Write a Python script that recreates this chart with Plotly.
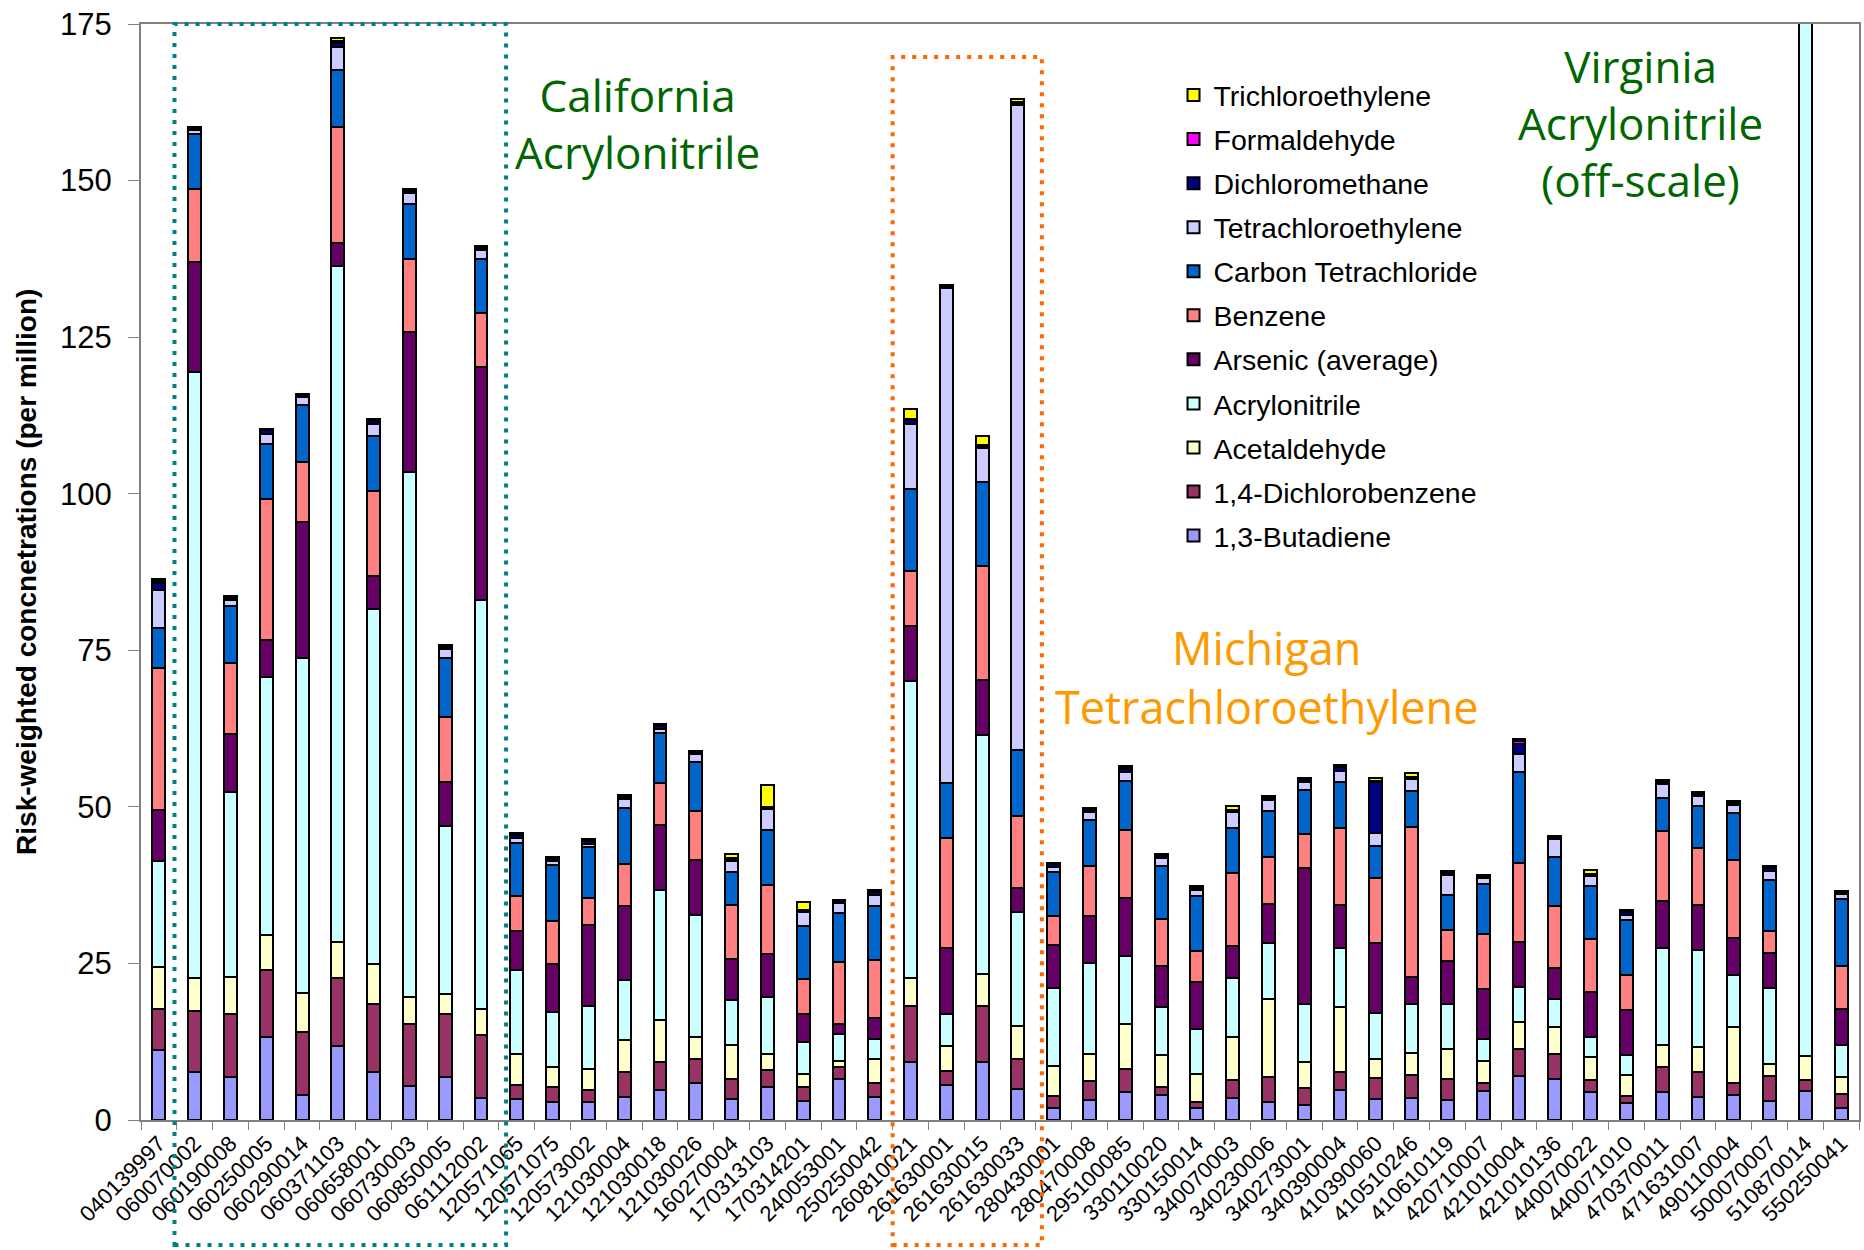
import plotly.graph_objects as go

# Monitoring sites (AQS site IDs)
sites = [
    "040139997", "060070002", "060190008", "060250005", "060290014", "060371103",
    "060658001", "060730003", "060850005", "061112002", "120571065", "120571075",
    "120573002", "121030004", "121030018", "121030026", "160270004", "170313103",
    "170314201", "240053001", "250250042", "260810021", "261630001", "261630015",
    "261630033", "280430001", "280470008", "295100085", "330110020", "330150014",
    "340070003", "340230006", "340273001", "340390004", "410390060", "410510246",
    "410610119", "420710007", "421010004", "421010136", "440070022", "440071010",
    "470370011", "471631007", "490110004", "500070007", "510870014", "550250041",
]

# Risk-weighted concentrations (per million), one list per pollutant, stacked bottom to top
butadiene = [11.1, 7.6, 6.9, 13.3, 4.0, 11.8, 7.7, 5.4, 6.9, 3.5, 3.4, 2.8,
             2.8, 3.7, 4.8, 5.9, 3.3, 5.2, 3.1, 6.6, 3.7, 9.2, 5.6, 9.2,
             5.0, 1.9, 3.2, 4.5, 4.0, 1.9, 3.5, 2.8, 2.4, 4.8, 3.3, 3.5,
             3.2, 4.6, 7.0, 6.6, 4.5, 2.7, 4.5, 3.7, 4.0, 3.1, 4.7, 1.9]
dichlorobenzene = [6.7, 9.8, 10.0, 10.6, 10.0, 10.8, 10.8, 10.0, 10.0, 10.1, 2.2, 2.4,
                   2.0, 3.9, 4.5, 3.8, 3.3, 2.8, 2.1, 1.8, 2.2, 9.0, 2.3, 9.0,
                   4.7, 1.9, 3.0, 3.6, 1.2, 1.0, 2.9, 4.0, 2.7, 2.8, 3.4, 3.7,
                   3.3, 1.3, 4.4, 3.9, 1.9, 1.2, 4.0, 4.0, 1.9, 3.9, 1.7, 2.2]
acetaldehyde = [6.7, 5.2, 6.0, 5.7, 6.2, 5.9, 6.4, 4.3, 3.2, 4.1, 4.9, 3.3,
                3.3, 5.1, 6.7, 3.5, 5.3, 2.5, 2.1, 1.0, 3.8, 4.4, 3.9, 5.1,
                5.3, 4.8, 4.3, 7.2, 5.2, 4.4, 6.9, 12.5, 4.1, 10.4, 3.0, 3.5,
                4.8, 3.6, 4.2, 4.4, 3.7, 3.3, 3.5, 4.0, 9.0, 1.9, 3.8, 2.8]
acrylonitrile = [16.8, 96.9, 29.4, 41.2, 53.6, 107.9, 56.7, 83.8, 26.8, 65.3, 13.4, 8.7,
                 10.1, 9.7, 20.8, 19.5, 7.3, 9.2, 5.2, 4.4, 3.2, 47.5, 5.2, 38.2,
                 18.2, 12.5, 14.5, 10.9, 7.6, 7.2, 9.3, 8.9, 9.3, 9.4, 7.4, 7.9,
                 7.2, 3.4, 5.6, 4.4, 3.2, 3.2, 15.5, 15.4, 8.3, 12.1, 400.0, 5.1]
arsenic = [8.2, 17.5, 9.4, 5.8, 21.7, 3.6, 5.3, 22.4, 7.0, 37.3, 6.3, 7.7,
           12.9, 11.8, 10.3, 8.8, 6.5, 6.8, 4.4, 1.6, 3.4, 8.8, 10.4, 8.8,
           3.9, 6.9, 7.5, 9.2, 6.6, 7.5, 5.2, 6.3, 21.8, 7.0, 11.2, 4.3,
           6.9, 8.0, 7.3, 4.9, 7.2, 7.2, 7.4, 7.2, 5.9, 5.7, 0.0, 5.7]
benzene = [22.6, 11.7, 11.2, 22.6, 9.6, 18.6, 13.5, 11.5, 10.4, 8.5, 5.5, 6.8,
           4.4, 6.7, 6.7, 7.8, 8.6, 11.0, 5.6, 9.8, 9.3, 8.7, 17.7, 18.2,
           11.4, 4.5, 8.1, 10.9, 7.5, 5.0, 11.6, 7.5, 5.3, 12.2, 10.3, 23.9,
           4.9, 8.8, 12.5, 10.0, 8.4, 5.6, 11.2, 9.1, 12.4, 3.4, 0.0, 6.9]
carbon_tet = [6.5, 8.8, 9.2, 8.7, 9.0, 9.0, 8.8, 8.8, 9.4, 8.7, 8.6, 9.0,
              8.1, 8.9, 8.0, 7.9, 5.3, 8.8, 8.5, 7.8, 8.6, 13.1, 8.7, 13.3,
              10.5, 7.1, 7.3, 7.8, 8.4, 8.8, 7.3, 7.3, 7.1, 7.3, 5.2, 5.7,
              5.6, 8.0, 14.6, 7.8, 8.5, 8.7, 5.3, 6.7, 7.5, 8.2, 0.0, 10.7]
tetrachloro = [6.0, 0.5, 1.0, 1.7, 1.4, 3.8, 1.9, 1.8, 1.5, 1.4, 0.8, 0.7,
               0.4, 1.4, 0.7, 1.2, 1.8, 3.3, 2.2, 1.6, 1.8, 10.5, 79.0, 5.5,
               103.1, 0.8, 1.2, 1.5, 1.4, 0.9, 2.4, 1.8, 1.3, 1.9, 2.0, 1.9,
               3.2, 0.9, 2.9, 2.8, 1.5, 0.9, 2.2, 1.6, 1.3, 1.5, 0.0, 0.8]
dichloromethane = [1.2, 0.3, 0.3, 0.5, 0.3, 0.6, 0.5, 0.4, 0.4, 0.4, 0.4, 0.3,
                   0.5, 0.4, 0.4, 0.3, 0.3, 0.3, 0.3, 0.3, 0.4, 0.6, 0.3, 0.35,
                   0.3, 0.4, 0.4, 0.5, 0.3, 0.4, 0.3, 0.3, 0.3, 0.5, 8.2, 0.3,
                   0.3, 0.3, 1.6, 0.3, 0.3, 0.4, 0.4, 0.4, 0.3, 0.4, 0.0, 0.3]
formaldehyde = [0.3, 0.1, 0.1, 0.15, 0.1, 0.3, 0.2, 0.1, 0.15, 0.1, 0.15, 0.15,
                0.15, 0.15, 0.15, 0.1, 0.1, 0.1, 0.1, 0.1, 0.15, 0.2, 0.1, 0.15,
                0.1, 0.15, 0.15, 0.2, 0.1, 0.15, 0.1, 0.15, 0.15, 0.2, 0.2, 0.1,
                0.1, 0.15, 0.4, 0.1, 0.1, 0.15, 0.15, 0.15, 0.15, 0.15, 0.0, 0.1]
trichloro = [0.3, 0.1, 0.1, 0.15, 0.1, 0.4, 0.2, 0.1, 0.15, 0.1, 0.15, 0.15,
             0.15, 0.15, 0.15, 0.1, 0.6, 3.5, 1.2, 0.1, 0.15, 1.6, 0.1, 1.4,
             0.5, 0.15, 0.15, 0.2, 0.1, 0.15, 0.6, 0.15, 0.15, 0.2, 0.4, 0.6,
             0.3, 0.15, 0.4, 0.1, 0.6, 0.15, 0.15, 0.15, 0.15, 0.15, 0.0, 0.1]

series = [
    ("1,3-Butadiene", butadiene, "#9999FF"),
    ("1,4-Dichlorobenzene", dichlorobenzene, "#993366"),
    ("Acetaldehyde", acetaldehyde, "#FFFFCC"),
    ("Acrylonitrile", acrylonitrile, "#CCFFFF"),
    ("Arsenic (average)", arsenic, "#660066"),
    ("Benzene", benzene, "#FF8080"),
    ("Carbon Tetrachloride", carbon_tet, "#0066CC"),
    ("Tetrachloroethylene", tetrachloro, "#CCCCFF"),
    ("Dichloromethane", dichloromethane, "#000080"),
    ("Formaldehyde", formaldehyde, "#FF00FF"),
    ("Trichloroethylene", trichloro, "#FFFF00"),
]

BASE_FONT = "Liberation Sans, Arial, sans-serif"
NOTE_FONT = "Open Sans, DejaVu Sans, sans-serif"

fig = go.Figure()
n = len(series)
for i, (name, vals, color) in enumerate(series):
    fig.add_trace(go.Bar(
        x=sites, y=vals, name=name, legendgroup=name,
        legendrank=n - i,  # top of the stack listed first
        marker=dict(color=color, line=dict(color="black", width=2)),
    ))

fig.update_layout(
    width=1864, height=1250,
    margin=dict(l=141, r=5, t=24, b=130, autoexpand=False),
    paper_bgcolor="white", plot_bgcolor="white",
    barmode="stack", bargap=0.64,
    font=dict(family=BASE_FONT, color="black"),
    showlegend=True,
    legend=dict(
        x=0.601, y=0.958, xanchor="left", yanchor="top",
        traceorder="grouped", tracegroupgap=4,
        font=dict(family=BASE_FONT, size=28.5, color="black"),
        bgcolor="rgba(0,0,0,0)",
    ),
)

fig.update_xaxes(
    type="category", tickangle=-45, tickfont=dict(size=22, family=BASE_FONT),
    ticks="outside", ticklen=8, tickcolor="#808080", tickson="boundaries",
    showline=True, linecolor="#808080", linewidth=2, mirror=True,
    showgrid=False, zeroline=False, automargin=False,
)
fig.update_yaxes(
    range=[0, 175], tick0=0, dtick=25, tickfont=dict(size=31, family=BASE_FONT),
    ticks="outside", ticklen=11, tickcolor="#808080", ticklabelstandoff=10,
    showline=True, linecolor="#808080", linewidth=2, mirror=True,
    showgrid=False, zeroline=False, automargin=False,
)

# Axis title
fig.add_annotation(
    text="Risk-weighted concnetrations (per million)", textangle=-90,
    xref="paper", yref="paper", x=-0.067, y=0.5, xanchor="center", yanchor="middle",
    showarrow=False, font=dict(family=BASE_FONT, size=28, weight="bold", color="black"),
)

# Highlighted groups of sites
box_dash = "4px,7px"
fig.add_shape(type="rect", xref="x", yref="paper", x0=0.436, x1=9.70, y0=-0.114, y1=1.0,
              line=dict(color="#008080", width=4, dash=box_dash), fillcolor="rgba(0,0,0,0)")
fig.add_shape(type="rect", xref="x", yref="paper", x0=20.50, x1=24.67, y0=-0.114, y1=0.970,
              line=dict(color="#FF6600", width=4, dash=box_dash), fillcolor="rgba(0,0,0,0)")

notes = [
    ("California<br>Acrylonitrile", 0.289, 0.909, "#006600", 44),
    ("Michigan<br>Tetrachloroethylene", 0.655, 0.404, "#FF9900", 45),
    ("Virginia<br>Acrylonitrile<br>(off-scale)", 0.873, 0.910, "#006600", 44),
]
for text, nx, ny, color, size in notes:
    fig.add_annotation(
        text=text, xref="paper", yref="paper", x=nx, y=ny,
        xanchor="center", yanchor="middle", align="center", showarrow=False,
        font=dict(family=NOTE_FONT, size=size, color=color),
    )

fig.write_html("out.html")
